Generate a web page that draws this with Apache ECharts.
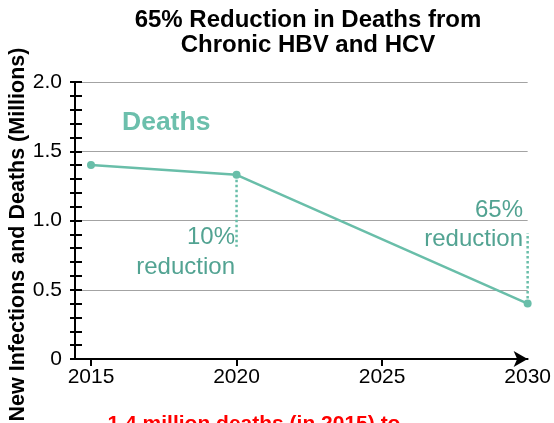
<!DOCTYPE html>
<html>
<head>
<meta charset="utf-8">
<script src="https://cdn.jsdelivr.net/npm/echarts@6/dist/echarts.min.js"></script>
<style>
  html, body { margin: 0; padding: 0; background: #ffffff; }
  #chart { width: 554px; height: 423px; }
</style>
</head>
<body>
<div id="chart"></div>
<script>
// Deaths from chronic HBV and HCV, millions
const years = [2015, 2020, 2030];
const deaths = [1.4, 1.33, 0.4];

// dotted guides marking the reduction at 2020 and 2030
const guide2020 = [[2020, 1.33], [2020, 0.81]];
const guide2030 = [[2030, 0.4], [2030, 0.91]];

// axis labels
const xTickValues = [2015, 2020, 2025];
const xLabelValues = [2015, 2020, 2025, 2030];
const yMin = 0, yMax = 2, yStep = 0.5;

const teal = '#69bea9';
const tealText = '#52a392';
const font = 'Liberation Sans, Arial, Helvetica, sans-serif';

const chart = echarts.init(document.getElementById('chart'), null, { renderer: 'canvas' });

const yAxisBase = {
  type: 'value',
  min: yMin,
  max: yMax,
  interval: yStep,
  position: 'left',
  axisLine: { show: true, lineStyle: { color: '#000', width: 2 } },
  minorTick: { show: true, splitNumber: 5, length: 5, lineStyle: { color: '#000', width: 2 } }
};

chart.setOption({
  animation: false,
  backgroundColor: '#ffffff',
  grid: { left: 75, right: 24, top: 82, bottom: 64 },
  xAxis: {
    type: 'value',
    min: 2014.45,
    max: 2030,
    axisLine: {
      show: true,
      lineStyle: { color: '#000', width: 2 },
      symbol: ['none', 'arrow'],
      symbolSize: [12, 14]
    },
    axisTick: {
      show: true,
      customValues: xTickValues,
      length: 7,
      lineStyle: { color: '#000', width: 2 }
    },
    axisLabel: {
      customValues: xLabelValues,
      color: '#000',
      fontFamily: font,
      fontSize: 21,
      margin: 8,
      formatter: v => String(Math.round(v))
    },
    splitLine: { show: false }
  },
  yAxis: [
    Object.assign({}, yAxisBase, {
      axisTick: { show: true, inside: false, length: 5, lineStyle: { color: '#000', width: 2 } },
      axisLabel: {
        color: '#000',
        fontFamily: font,
        fontSize: 21,
        margin: 13,
        formatter: v => (v === 0 ? '0' : v.toFixed(1))
      },
      splitLine: { show: true, lineStyle: { color: '#a3a3a3', width: 1.2 } }
    }),
    Object.assign({}, yAxisBase, {
      axisTick: { show: true, inside: true, length: 7, lineStyle: { color: '#000', width: 2 } },
      minorTick: { show: true, splitNumber: 5, length: 7, lineStyle: { color: '#000', width: 2 } },
      axisLabel: { show: false },
      splitLine: { show: false }
    })
  ],
  series: [
    {
      type: 'line',
      data: guide2020,
      symbol: 'none',
      z: 1,
      lineStyle: { color: teal, width: 2.5, type: [2.5, 2.5] }
    },
    {
      type: 'line',
      data: guide2030,
      symbol: 'none',
      z: 1,
      lineStyle: { color: teal, width: 2.5, type: [2.5, 2.5] }
    },
    {
      type: 'line',
      data: years.map((y, i) => [y, deaths[i]]),
      symbol: 'circle',
      symbolSize: 8,
      z: 3,
      itemStyle: { color: teal },
      lineStyle: { color: teal, width: 2.5 }
    }
  ],
  graphic: [
    {
      type: 'text',
      x: 308, y: 8,
      style: {
        text: '65% Reduction in Deaths from\nChronic HBV and HCV',
        fill: '#000',
        font: 'bold 24px ' + font,
        align: 'center',
        verticalAlign: 'top',
        lineHeight: 25
      }
    },
    {
      type: 'text',
      x: 18, y: 234.5,
      rotation: Math.PI / 2,
      style: {
        text: 'New Infections and Deaths (Millions)',
        fill: '#000',
        font: 'bold 21.5px ' + font,
        align: 'center',
        verticalAlign: 'middle'
      }
    },
    {
      type: 'text',
      x: 122, y: 122.5,
      style: {
        text: 'Deaths',
        fill: '#6cbfac',
        font: 'bold 26.5px ' + font,
        align: 'left',
        verticalAlign: 'middle'
      }
    },
    {
      type: 'text',
      x: 235, y: 222,
      style: {
        text: '10%\nreduction',
        fill: tealText,
        font: '24px ' + font,
        align: 'right',
        verticalAlign: 'top',
        lineHeight: 30
      }
    },
    {
      type: 'text',
      x: 523, y: 195.5,
      style: {
        text: '65%\nreduction',
        fill: tealText,
        font: '24px ' + font,
        align: 'right',
        verticalAlign: 'top',
        lineHeight: 29
      }
    },
    {
      type: 'text',
      x: 254, y: 424.5,
      style: {
        text: '1.4 million deaths (in 2015) to',
        fill: '#ff0000',
        font: 'bold 21px ' + font,
        align: 'center',
        verticalAlign: 'middle'
      }
    }
  ]
});
</script>
</body>
</html>
